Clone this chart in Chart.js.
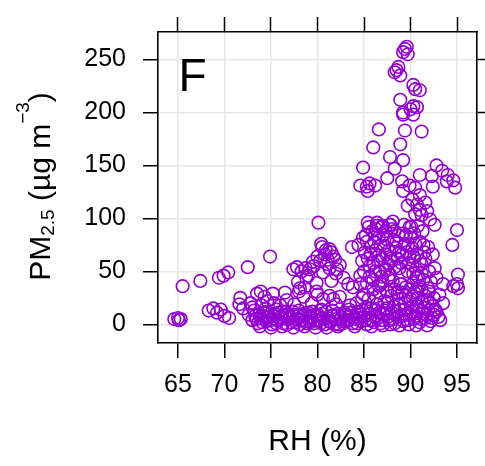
<!DOCTYPE html>
<html>
<head>
<meta charset="utf-8">
<script src="https://cdn.jsdelivr.net/npm/chart.js@4/dist/chart.umd.min.js"></script>
<style>
  html, body { margin: 0; padding: 0; background: #fff; }
  #wrap { width: 485px; height: 466px; }
</style>
</head>
<body>
<div id="wrap"><canvas id="chart" width="485" height="466"></canvas></div>
<script>
// tick values and axis ranges
const rhTicks = [65, 70, 75, 80, 85, 90, 95];
const pmTicks = [0, 50, 100, 150, 200, 250];
const rhRange = [62.85, 97.15];
const pmRange = [-17.6, 276];
const panelLetter = 'F';
const xTitle = 'RH (%)';

// [RH, PM2.5], grouped by region
const upperBranch = [
  [89.4, 260], [89.6, 262], [89.2, 257], [89.7, 255], [88.7, 243], [88.3, 238], [88.9, 235], [88.5, 240],
  [90.3, 226], [91.0, 221], [90.5, 222], [88.9, 212], [90.3, 206], [90.7, 205], [89.2, 200], [90.0, 203],
  [89.2, 198], [90.3, 198], [86.6, 184], [89.4, 183], [91.2, 182], [86.0, 167], [88.9, 170], [87.8, 158],
  [89.2, 155], [88.3, 147], [84.9, 148], [92.8, 150], [93.4, 145], [91.0, 141], [92.3, 140], [94.0, 141],
  [94.6, 136], [94.8, 129], [93.9, 135], [92.4, 130], [87.5, 138], [89.1, 135], [89.2, 126], [89.9, 131],
  [90.5, 129], [84.6, 131], [85.3, 130], [85.6, 133], [86.2, 131], [85.4, 126], [91.0, 122], [90.2, 118],
  [90.7, 113], [91.6, 115], [89.7, 112], [91.0, 108], [91.8, 107], [90.5, 104], [91.2, 103], [92.1, 99],
  [92.6, 94], [85.4, 96], [86.4, 93], [87.0, 93], [87.8, 94], [89.9, 92], [90.8, 93]
];

const midCluster = [
  [84.4, 75], [83.7, 73], [84.9, 82], [85.1, 68], [85.4, 62], [85.6, 55], [85.9, 88], [86.1, 78],
  [86.3, 70], [86.5, 60], [86.7, 50], [86.9, 92], [87.1, 84], [87.2, 74], [87.4, 66], [87.6, 57],
  [87.8, 47], [88.0, 90], [88.2, 80], [88.4, 72], [88.6, 62], [88.8, 53], [89.2, 86],
  [89.4, 76], [89.6, 68], [89.8, 58], [90.0, 82], [90.2, 72], [90.4, 63], [90.6, 52], [90.8, 45],
  [91.0, 78], [91.2, 57], [91.5, 68], [91.9, 73], [92.4, 66], [92.6, 53], [91.2, 48], [90.3, 48],
  [85.2, 84], [85.8, 74], [86.4, 96], [87.0, 93], [87.8, 94], [86.0, 42], [86.8, 38], [89.5, 35],
  [92.8, 44], [85.5, 92], [86.2, 85], [86.6, 65], [87.3, 88], [87.9, 62], [88.3, 54], [88.7, 84],
  [89.1, 66], [89.7, 50], [90.1, 92], [90.5, 76], [91.3, 88], [84.8, 60], [85.0, 50], [86.9, 45],
  [91.6, 62]
];

const midFill = [
  [85.3, 78], [85.7, 66], [86.0, 58], [86.3, 90], [86.6, 82], [86.8, 74], [87.0, 62], [87.3, 52],
  [87.5, 80], [87.7, 70], [88.0, 60], [88.1, 97], [88.3, 88], [88.5, 78], [88.8, 68], [89.0, 58],
  [89.3, 94], [89.5, 84], [89.7, 74], [89.9, 64], [90.2, 56], [90.4, 86], [90.7, 66], [91.0, 60],
  [91.4, 75], [86.2, 50], [87.0, 40], [87.6, 44], [90.6, 44], [91.4, 42], [92.0, 50], [92.2, 40],
  [86.6, 36], [85.6, 45], [84.6, 38], [88.6, 30], [90.2, 26], [91.8, 22]
];

const leftScatter = [
  [64.6, 5], [65.0, 6], [65.3, 5], [65.1, 4], [65.5, 36], [67.4, 41], [69.4, 44], [69.9, 46],
  [70.4, 49], [72.5, 54], [74.9, 64], [68.3, 13], [68.8, 15], [69.2, 11], [69.6, 14], [70.0, 8],
  [70.5, 6], [71.7, 25], [71.6, 19], [72.0, 15], [73.5, 29], [73.9, 31], [74.3, 26], [74.6, 22],
  [75.2, 29], [76.7, 23], [77.5, 19], [78.1, 34], [78.0, 31], [78.5, 26], [79.9, 31], [80.0, 28],
  [79.4, 20], [80.6, 24], [81.3, 27], [81.7, 24], [82.4, 26], [82.0, 19], [83.3, 38], [83.8, 35],
  [84.6, 46], [85.3, 39], [77.4, 52], [77.8, 54], [78.3, 50], [79.2, 52], [79.5, 59], [79.0, 46],
  [80.1, 96], [80.5, 73], [81.3, 71], [80.8, 66], [81.7, 64], [81.0, 57], [81.3, 53], [82.4, 56],
  [81.9, 61], [80.3, 60], [80.6, 49], [82.0, 48], [79.9, 39], [81.5, 41]
];

const leftFill = [
  [78.7, 53], [79.6, 55], [80.0, 64], [80.9, 70], [81.5, 68], [80.4, 76], [81.1, 61], [82.1, 52],
  [82.8, 44], [78.8, 44], [77.9, 40], [78.6, 35], [76.5, 30], [76.0, 18], [75.3, 20], [74.0, 18],
  [72.8, 20], [73.0, 16]
];

const rightEdge = [
  [95.0, 89], [94.5, 75], [95.1, 47], [95.0, 38], [95.1, 34], [94.6, 36], [93.5, 38], [93.1, 28],
  [93.5, 20], [93.0, 7], [88.1, 41], [87.5, 31], [88.9, 38], [90.3, 39], [90.7, 31], [91.9, 34]
];

const lowBand = [
  [73.0, 4], [73.3, 8], [73.6, 1], [73.9, 6], [74.2, 11], [74.5, 3], [74.8, 7], [75.1, 0],
  [75.4, 10], [75.7, 4], [76.0, 7], [76.3, 1], [76.6, 12], [76.9, 5], [77.2, 2], [77.5, 9],
  [77.8, 5], [78.1, 0], [78.4, 8], [78.7, 3], [79.0, 11], [79.3, 6], [79.6, 1], [79.9, 8],
  [80.2, 4], [80.5, 10], [80.8, 0], [81.1, 6], [81.4, 2], [81.7, 9], [82.0, 5], [82.3, 0],
  [82.6, 7], [82.9, 11], [83.2, 3], [83.5, 8], [83.8, 1], [84.1, 5], [84.4, 12], [84.7, 3],
  [85.0, 7], [85.3, 0], [85.6, 10], [85.9, 4], [86.2, 13], [86.5, 6], [86.8, 1], [87.1, 9],
  [87.4, 15], [87.7, 4], [88.0, 11], [88.3, 1], [88.6, 7], [88.9, 14], [89.2, 3], [89.5, 9],
  [89.8, 0], [90.1, 12], [90.4, 5], [90.7, 17], [91.0, 2], [91.3, 10], [91.6, 6], [91.9, 13],
  [92.2, 3], [92.5, 9]
];

const lowBandFill = [
  [72.6, 9], [73.2, 13], [73.8, -2], [74.4, 15], [75.0, -3], [75.6, 14], [76.2, -2], [76.8, 9],
  [77.4, -3], [78.0, 13], [78.6, -2], [79.2, 2], [79.8, -3], [80.4, 14], [81.0, -3], [81.6, 13],
  [82.2, -2], [82.8, 3], [83.4, 14], [84.0, -2], [84.6, 9], [85.2, 16], [85.8, -2], [86.4, 19],
  [87.0, -1], [87.6, 21], [88.2, 17], [88.8, -1], [89.4, 20], [90.0, 24], [90.6, -1], [91.2, 22],
  [91.8, -1], [92.4, 17], [92.8, 12], [93.2, 4]
];

const lowBandFill2 = [
  [73.45, 5], [73.75, 10], [74.05, 2], [74.35, 7], [74.65, 12], [74.95, 4], [75.25, 8], [75.55, 1],
  [75.85, 11], [76.15, 5], [76.45, 9], [76.75, 0], [77.05, 7], [77.35, 12], [77.65, 2], [77.95, 8],
  [78.25, 4], [78.55, 10], [78.85, 1], [79.15, 7], [79.45, 12], [79.75, 4], [80.05, 9], [80.35, 1],
  [80.65, 6], [80.95, 12], [81.25, 3], [81.55, 8], [81.85, 0], [82.15, 10], [82.45, 5], [82.75, 1],
  [83.05, 9], [83.35, 4], [83.65, 11], [83.95, 7], [84.25, 1], [84.55, 6], [84.85, 13], [85.15, 4],
  [85.45, 9], [85.75, 15], [86.05, 2], [86.35, 8], [86.65, 11], [86.95, 4], [87.25, 13], [87.55, 7],
  [87.85, 0], [88.15, 5], [88.45, 12], [88.75, 18], [89.05, 8], [89.35, 14], [89.65, 4], [89.95, 10],
  [90.25, 17], [90.55, 8], [90.85, 13], [91.15, 5], [91.45, 16], [91.75, 9], [92.05, 20], [92.35, 6],
  [92.65, 14]
];

const lowUpper = [
  [85.0, 28], [85.5, 24], [86.0, 33], [86.3, 26], [86.7, 30], [87.2, 22], [87.5, 31], [87.9, 27],
  [88.3, 33], [88.7, 24], [89.1, 30], [89.5, 27], [89.9, 33], [90.4, 30], [90.8, 25], [91.2, 33],
  [91.6, 27], [92.0, 31], [92.5, 25], [89.0, 38], [91.0, 36], [84.8, 25], [84.2, 20], [83.5, 18]
];

const allPoints = [].concat(upperBranch, midCluster, midFill, leftScatter, leftFill, rightEdge,
  lowBand, lowBandFill, lowBandFill2, lowUpper).map(([x, y]) => ({ x, y }));

const FONT = '"Liberation Sans", Arial, sans-serif';

// draws the panel letter and the y title (needs sub/superscript)
const labelPlugin = {
  id: 'panelLabels',
  afterDraw(chart) {
    const ctx = chart.ctx;
    const area = chart.chartArea;
    ctx.save();
    ctx.fillStyle = '#000';
    ctx.textBaseline = 'alphabetic';
    ctx.textAlign = 'left';
    ctx.font = '46px ' + FONT;
    ctx.fillText(panelLetter, area.left + 20.5, area.top + 59);

    const parts = [
      { t: 'PM', size: 30, dy: 0 },
      { t: '2.5', size: 19, dy: 4 },
      { t: ' (\u00B5g m', size: 30, dy: 0 },
      { t: '\u22123', size: 19, dy: -21 },
      { t: ')', size: 30, dy: 0 }
    ];
    let total = 0;
    parts.forEach(p => {
      ctx.font = p.size + 'px ' + FONT;
      p.w = ctx.measureText(p.t).width;
      total += p.w;
    });
    ctx.translate(50, 186.5);
    ctx.rotate(-Math.PI / 2);
    let x = -total / 2;
    parts.forEach(p => {
      ctx.font = p.size + 'px ' + FONT;
      ctx.fillText(p.t, x, p.dy);
      x += p.w;
    });
    ctx.restore();
  }
};

const gridColor = '#e6e6e6';
const tickFont = { family: FONT, size: 25 };

new Chart(document.getElementById('chart'), {
  type: 'scatter',
  data: {
    datasets: [{
      data: allPoints,
      pointStyle: 'circle',
      pointRadius: 6.3,
      pointBorderWidth: 1.6,
      borderColor: '#9400D3',
      backgroundColor: 'rgba(0,0,0,0)'
    }]
  },
  options: {
    responsive: false,
    animation: false,
    devicePixelRatio: 1,
    layout: { padding: 0 },
    plugins: { legend: { display: false }, tooltip: { enabled: false } },
    scales: {
      x: {
        type: 'linear', position: 'bottom', min: rhRange[0], max: rhRange[1],
        afterBuildTicks: s => { s.ticks = rhTicks.map(v => ({ value: v })); },
        afterFit: s => { s.height = 123; },
        grid: { color: gridColor, lineWidth: 1.5, tickColor: '#000', tickLength: 15, tickWidth: 1.5 },
        border: { color: '#000', width: 1.6 },
        ticks: { font: tickFont, color: '#000', padding: 12, maxRotation: 0, autoSkip: false },
        title: { display: true, text: xTitle, color: '#000', font: { family: FONT, size: 30, lineHeight: 1 }, padding: { top: 0, bottom: 9 } }
      },
      x2: {
        type: 'linear', position: 'top', min: rhRange[0], max: rhRange[1],
        afterBuildTicks: s => { s.ticks = rhTicks.map(v => ({ value: v })); },
        afterFit: s => { s.height = 24; },
        grid: { drawOnChartArea: false, tickColor: '#000', tickLength: 15, tickWidth: 1.5 },
        border: { color: '#000', width: 1.6 },
        ticks: { display: false }
      },
      y: {
        type: 'linear', position: 'left', min: pmRange[0], max: pmRange[1],
        afterBuildTicks: s => { s.ticks = pmTicks.map(v => ({ value: v })); },
        afterFit: s => { s.width = 158; },
        grid: { color: gridColor, lineWidth: 1.5, tickColor: '#000', tickLength: 15, tickWidth: 1.5 },
        border: { color: '#000', width: 1.6 },
        ticks: { font: tickFont, color: '#000', padding: 17, autoSkip: false }
      },
      y2: {
        type: 'linear', position: 'right', min: pmRange[0], max: pmRange[1],
        afterBuildTicks: s => { s.ticks = pmTicks.map(v => ({ value: v })); },
        afterFit: s => { s.width = 8; },
        grid: { drawOnChartArea: false, tickColor: '#000', tickLength: 15, tickWidth: 1.5 },
        border: { color: '#000', width: 1.6 },
        ticks: { display: false }
      }
    }
  },
  plugins: [labelPlugin]
});
</script>
</body>
</html>
